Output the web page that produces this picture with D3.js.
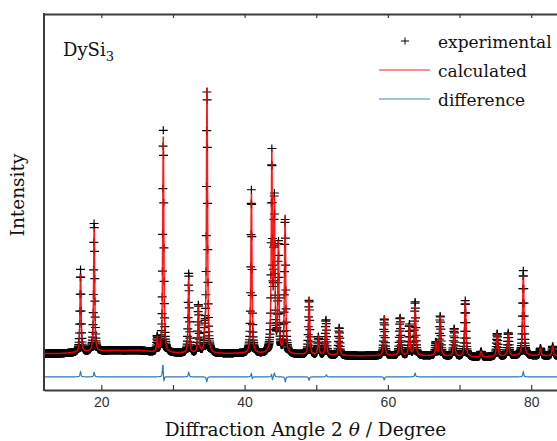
<!DOCTYPE html>
<html><head><meta charset="utf-8">
<script src="https://cdn.jsdelivr.net/npm/d3@7"></script>
<style>body{margin:0;background:#fff}svg{display:block}</style>
</head><body>
<script>
// ---- data ----
const peakPos    = [17.1, 19.0, 27.8, 28.65, 32.2, 33.55, 34.45, 34.75, 40.95, 43.8, 44.15, 44.72, 45.65, 49.0, 50.3, 51.35, 53.2, 59.5, 61.7, 63.0, 63.8, 66.7, 67.3, 69.25, 70.8, 73.0, 75.25, 76.8, 78.9, 81.3, 83.0];
const peakHeight = [20.7, 33.2, 4.0, 57.4, 20.2, 12.8, 4.0, 71.3, 42.6, 52.0, 39.0, 29.0, 37.0, 15.4, 4.8, 9.0, 7.4, 10.6, 10.1, 8.2, 13.3, 3.5, 10.6, 7.4, 14.9, 1.5, 6.1, 6.1, 21.3, 2.0, 2.5];
const peakFwhm   = [0.18, 0.18, 0.18, 0.18, 0.18, 0.18, 0.18, 0.18, 0.19, 0.19, 0.19, 0.19, 0.19, 0.2, 0.2, 0.2, 0.2, 0.21, 0.21, 0.21, 0.21, 0.22, 0.22, 0.22, 0.22, 0.23, 0.23, 0.23, 0.23, 0.23, 0.23];
const bgAngle = [12, 14.3, 17, 21.3, 25.4, 27.5, 33.8, 39.4, 47.8, 54.7, 66, 72.9, 78, 85];
const bgLevel = [9.7, 9.7, 10.0, 10.5, 10.5, 10.0, 9.6, 9.7, 9.4, 9.1, 9.1, 8.7, 9.1, 9.1];
const diffPos = [17.1, 19.0, 28.6, 28.72, 32.2, 34.72, 40.95, 41.05, 43.78, 43.86, 44.15, 45.68, 49.0, 51.4, 59.5, 63.8, 78.9];
const diffAmp = [1.3, 1.2, 3.7, -1.8, 1.2, -1.3, 1.2, -0.8, 1.2, -1.3, 1.0, -1.3, -0.9, 0.5, -0.8, 1.0, 1.3];
const diffFwhm = 0.16;
const diffOffset = 3.5;
const stepDeg = 0.03;
const angleRange = [12, 85];
const intensityRange = [0, 100];
const xTicks = [20, 30, 40, 50, 60, 70, 80];
const xTickLabels = ["20", "", "40", "", "60", "", "80"];
const legendLabels = ["experimental", "calculated", "difference"];
const sampleName = "DySi";
const sampleSub = "3";

// ---- layout ----
const W = 557, H = 441;
const L = 44, R = 567, T = 14, B = 390;
const serif = "'DejaVu Serif', serif";
const sans = "'Liberation Sans', Arial, sans-serif";

const x = d3.scaleLinear().domain(angleRange).range([L, R]);
const y = d3.scaleLinear().domain(intensityRange).range([B, T]);
const bg = d3.scaleLinear().domain(bgAngle).range(bgLevel).clamp(true);

function pv(d, fwhm) {
  const g = fwhm / 2, u = (d / g) * (d / g);
  return 0.75 / (1 + u) + 0.25 * Math.exp(-Math.LN2 * u);
}
const n = Math.round((angleRange[1] - angleRange[0]) / stepDeg);
const angles = d3.range(n + 1).map(i => angleRange[0] + i * stepDeg);
const calc = angles.map(t => bg(t) + d3.sum(peakPos, (p, k) => peakHeight[k] * pv(t - p, peakFwhm[k])));
const diff = angles.map(t => d3.sum(diffPos, (p, k) => diffAmp[k] * pv(t - p, diffFwhm)));
const obs = calc.map((c, i) => c + diff[i]);
const rows = angles.map((t, i) => ({t, calc: calc[i], obs: obs[i], diff: diff[i] + diffOffset}));

const svg = d3.select("body").append("svg").attr("width", W).attr("height", H);

svg.append("defs").append("clipPath").attr("id", "plot")
  .append("rect").attr("x", L).attr("y", T).attr("width", R - L).attr("height", B - T);

const g = svg.append("g").attr("clip-path", "url(#plot)");

// experimental crosses
g.append("g").selectAll("path").data(rows).join("path")
  .attr("d", d => { const px = x(d.t), py = y(d.obs); return `M${px-4.5},${py}h9M${px},${py-4}v8`; })
  .attr("stroke", "#000").attr("stroke-width", 1.2).attr("fill", "none");

// calculated
g.append("path").datum(rows)
  .attr("d", d3.line().x(d => x(d.t)).y(d => y(d.calc)))
  .attr("fill", "none").attr("stroke", "#ff0000").attr("stroke-width", 1.5).attr("stroke-opacity", 0.9);

// difference
g.append("path").datum(rows)
  .attr("d", d3.line().x(d => x(d.t)).y(d => y(d.diff)))
  .attr("fill", "none").attr("stroke", "#2a7ab8").attr("stroke-width", 1.2);

// axes
const axB = svg.append("g").attr("transform", `translate(0,${B})`)
  .call(d3.axisBottom(x).tickValues(xTicks).tickFormat((d, i) => xTickLabels[i]).tickSizeInner(-5).tickSizeOuter(0).tickPadding(7));
const axT = svg.append("g").attr("transform", `translate(0,${T})`)
  .call(d3.axisTop(x).tickValues(xTicks).tickFormat("").tickSizeInner(-4).tickSizeOuter(0));
[axB, axT].forEach(a => {
  a.select(".domain").attr("stroke", "#3c3c3c").attr("stroke-width", 2);
  a.selectAll(".tick line").attr("stroke", "#3c3c3c").attr("stroke-width", 1.2);
  a.selectAll("text").attr("font-family", sans).attr("font-size", 14).attr("fill", "#333");
});
svg.append("line").attr("x1", L).attr("x2", L).attr("y1", T - 1).attr("y2", B + 1)
  .attr("stroke", "#3c3c3c").attr("stroke-width", 2);
svg.append("line").attr("x1", R).attr("x2", R).attr("y1", T - 1).attr("y2", B + 1)
  .attr("stroke", "#3c3c3c").attr("stroke-width", 2);

// axis titles
const xl = svg.append("text").attr("x", (L + R) / 2).attr("y", 436).attr("text-anchor", "middle")
  .attr("font-family", serif).attr("font-size", 18.5).attr("fill", "#111");
xl.append("tspan").text("Diffraction Angle 2 ");
xl.append("tspan").attr("font-style", "italic").text("θ");
xl.append("tspan").text(" / Degree");

svg.append("text").attr("transform", "translate(24,195) rotate(-90)").attr("text-anchor", "middle")
  .attr("font-family", serif).attr("font-size", 18.5).attr("fill", "#111").text("Intensity");

// sample label
const sl = svg.append("text").attr("x", 63).attr("y", 56).attr("font-family", serif).attr("font-size", 18).attr("fill", "#111");
sl.append("tspan").text(sampleName);
sl.append("tspan").attr("dy", 5).attr("font-size", 13).text(sampleSub);

// legend
const lg = svg.append("g");
const ly = [41, 70, 99];
lg.append("path").attr("d", `M401,${ly[0]}h8M405,${ly[0]-3.5}v7`).attr("stroke", "#000").attr("stroke-width", 1);
lg.append("line").attr("x1", 379).attr("x2", 430).attr("y1", ly[1]).attr("y2", ly[1]).attr("stroke", "#ff0000").attr("stroke-width", 1.4).attr("stroke-opacity", 0.6);
lg.append("line").attr("x1", 379).attr("x2", 430).attr("y1", ly[2]).attr("y2", ly[2]).attr("stroke", "#2a7ab8").attr("stroke-width", 1.4).attr("stroke-opacity", 0.6);
lg.selectAll("text").data(legendLabels).join("text")
  .attr("x", 438).attr("y", (d, i) => ly[i] + 7)
  .attr("font-family", serif).attr("font-size", 17).attr("fill", "#111").text(d => d);
</script>
</body></html>
